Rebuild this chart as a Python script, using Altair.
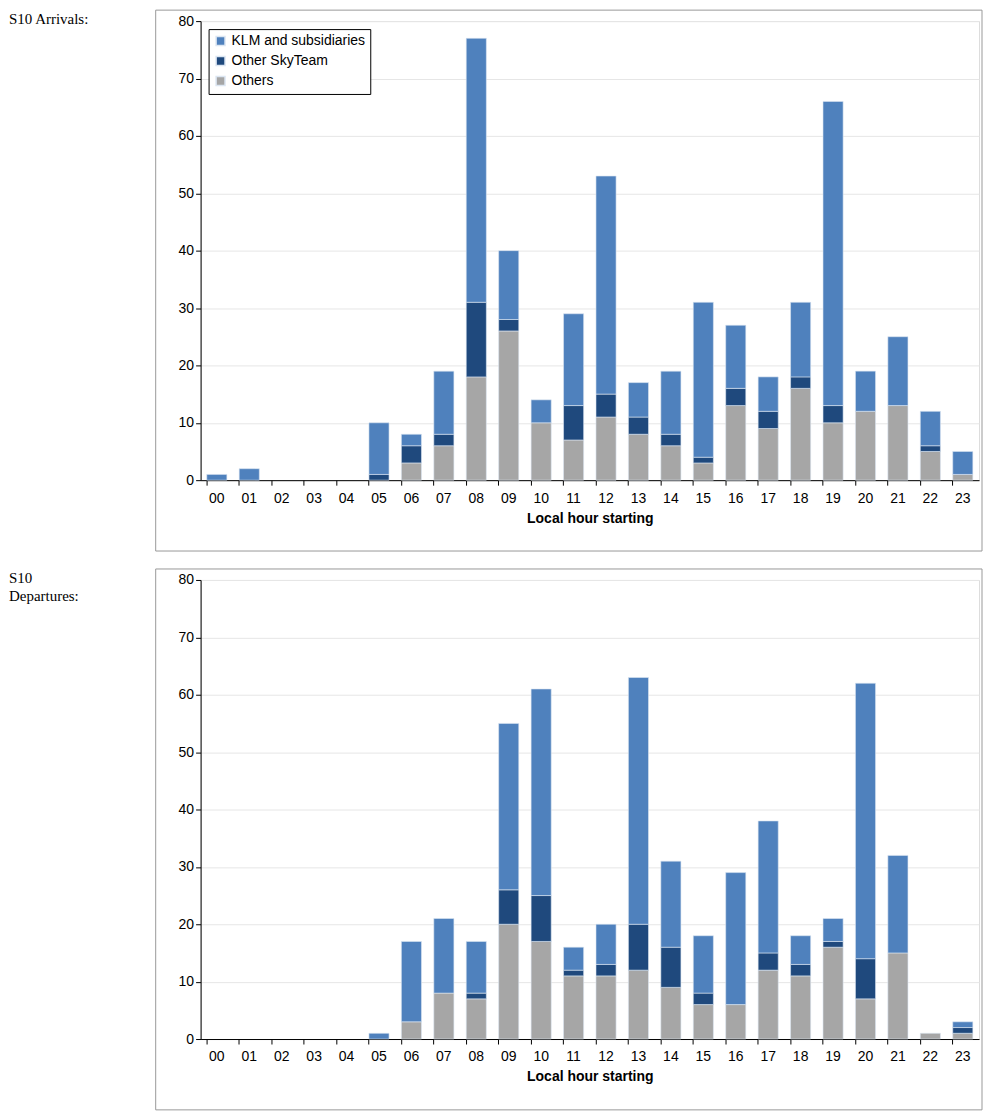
import altair as alt
import pandas as pd

HOURS = [f"{h:02d}" for h in range(24)]
SERIES = ["KLM and subsidiaries", "Other SkyTeam", "Others"]
COLORS = ["#4F81BD", "#1F497D", "#A6A6A6"]

# Arrivals: totals, Other SkyTeam, Others per hour
arr_total = [1, 2, 0, 0, 0, 10, 8, 19, 77, 40, 14, 29, 53, 17, 19, 31, 27, 18, 31, 66, 19, 25, 12, 5]
arr_sky = [0, 0, 0, 0, 0, 1, 3, 2, 13, 2, 0, 6, 4, 3, 2, 1, 3, 3, 2, 3, 0, 0, 1, 0]
arr_oth = [0, 0, 0, 0, 0, 0, 3, 6, 18, 26, 10, 7, 11, 8, 6, 3, 13, 9, 16, 10, 12, 13, 5, 1]

# Departures
dep_total = [0, 0, 0, 0, 0, 1, 17, 21, 17, 55, 61, 16, 20, 63, 31, 18, 29, 38, 18, 21, 62, 32, 1, 3]
dep_sky = [0, 0, 0, 0, 0, 0, 0, 0, 1, 6, 8, 1, 2, 8, 7, 2, 0, 3, 2, 1, 7, 0, 0, 1]
dep_oth = [0, 0, 0, 0, 0, 0, 3, 8, 7, 20, 17, 11, 11, 12, 9, 6, 6, 12, 11, 16, 7, 15, 1, 1]


def to_frame(total, sky, oth):
    rows = []
    for h, t, s, o in zip(HOURS, total, sky, oth):
        rows.append({"hour": h, "series": "Others", "value": o, "ord": 0})
        rows.append({"hour": h, "series": "Other SkyTeam", "value": s, "ord": 1})
        rows.append({"hour": h, "series": "KLM and subsidiaries", "value": t - s - o, "ord": 2})
    return pd.DataFrame(rows)


def panel(df, label):
    one = pd.DataFrame({"k": [0]})
    bars = alt.Chart(df).mark_bar(stroke="#dce6f2", strokeWidth=0.6).encode(
        x=alt.X("hour:N", sort=HOURS, title="Local hour starting",
                scale=alt.Scale(domain=HOURS, paddingInner=0.38, paddingOuter=0.19),
                axis=alt.Axis(labelAngle=0, bandPosition=0, domainColor="black",
                              tickColor="black", labelFontSize=14, titleFontSize=14,
                              titleFontWeight="bold", labelColor="black", titleColor="black",
                              titlePadding=6, labelPadding=6)),
        y=alt.Y("value:Q", stack=True, title=None,
                scale=alt.Scale(domain=[0, 80]),
                axis=alt.Axis(values=list(range(0, 81, 10)), gridColor="#e6e6e6", domainColor="black",
                              tickColor="black", labelFontSize=14, labelColor="black")),
        color=alt.Color("series:N", sort=SERIES, scale=alt.Scale(domain=SERIES, range=COLORS),
                        legend=alt.Legend(title=None, orient="none", legendX=8, legendY=8,
                                          symbolType="square", symbolSize=80, labelFontSize=14,
                                          labelColor="black", strokeColor="black", fillColor="white",
                                          padding=5, rowPadding=4)),
        order=alt.Order("ord:Q"),
    ).transform_filter("datum.value > 0")
    box = alt.Chart(one).mark_rect(fill=None, stroke="#999999", strokeWidth=1).encode(
        x=alt.value(-45), x2=alt.value(783), y=alt.value(-11), y2=alt.value(531))
    txt = alt.Chart(one).mark_text(align="left", baseline="top", font="Liberation Serif",
                                   fontSize=15, lineHeight=18).encode(
        x=alt.value(-192), y=alt.value(-9), text=alt.value(label))
    return (box + bars + txt).properties(width=780, height=460)


chart = alt.vconcat(
    panel(to_frame(arr_total, arr_sky, arr_oth), "S10 Arrivals:"),
    panel(to_frame(dep_total, dep_sky, dep_oth), ["S10", "Departures:"]),
    spacing=16,
).configure_view(stroke=None).configure(font="Liberation Sans").properties(padding=0)

chart.save("out.html", embed_options={"renderer": "svg", "actions": False})
